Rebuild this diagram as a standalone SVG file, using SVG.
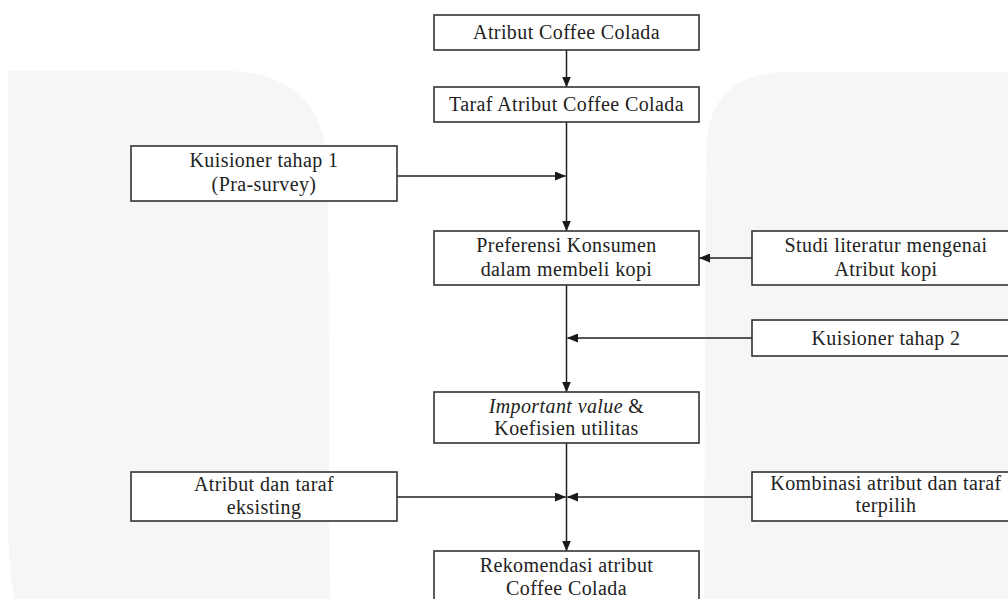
<svg xmlns="http://www.w3.org/2000/svg" width="1008" height="599" viewBox="0 0 1008 599">
<defs>
<marker id="ah" markerWidth="11" markerHeight="9" refX="10.5" refY="4.5" orient="auto" markerUnits="userSpaceOnUse">
<path d="M0,0 L11,4.5 L0,9 Z" fill="#1a1a1a"/>
</marker>
</defs>
<style>
.box{fill:#ffffff;stroke:#333333;stroke-width:1.6}
.t{font-family:"Liberation Serif","Times New Roman",serif;font-size:20px;letter-spacing:0.4px;fill:#222222;text-anchor:middle}
.c{fill:none;stroke:#1f1f1f;stroke-width:1.5}
.bg{fill:#f6f6f6}
</style>
<rect x="0" y="0" width="1008" height="599" fill="#ffffff"/>
<g id="watermark">
<path class="bg" d="M8,71 L230,71 Q325,75 328,170 L330,599 L14,599 Q8,560 8,520 Z"/>
<path class="bg" d="M1008,72 L780,72 Q708,76 706,150 L704,599 L1008,599 Z"/>
</g>
<g id="connectors">
<line class="c" x1="566.5" y1="50" x2="566.5" y2="87" marker-end="url(#ah)"/>
<line class="c" x1="566.5" y1="122" x2="566.5" y2="231" marker-end="url(#ah)"/>
<line class="c" x1="397" y1="176" x2="565.5" y2="176" marker-end="url(#ah)"/>
<line class="c" x1="752" y1="258" x2="699.5" y2="258" marker-end="url(#ah)"/>
<line class="c" x1="566.5" y1="285" x2="566.5" y2="392" marker-end="url(#ah)"/>
<line class="c" x1="752" y1="338" x2="567.5" y2="338" marker-end="url(#ah)"/>
<line class="c" x1="566.5" y1="443" x2="566.5" y2="551" marker-end="url(#ah)"/>
<line class="c" x1="397" y1="497" x2="565.5" y2="497" marker-end="url(#ah)"/>
<line class="c" x1="752" y1="497" x2="567.5" y2="497" marker-end="url(#ah)"/>
</g>
<g id="n1">
<rect class="box" x="434" y="15" width="265" height="35"/>
<text class="t" x="566.5" y="39">Atribut Coffee Colada</text>
</g>
<g id="n2">
<rect class="box" x="434" y="87" width="265" height="35"/>
<text class="t" x="566.5" y="111">Taraf Atribut Coffee Colada</text>
</g>
<g id="n3">
<rect class="box" x="131" y="146" width="266" height="55"/>
<text class="t" x="264" y="167">Kuisioner tahap 1</text>
<text class="t" x="264" y="191">(Pra-survey)</text>
</g>
<g id="n4">
<rect class="box" x="434" y="231" width="265" height="54"/>
<text class="t" x="566.5" y="252">Preferensi Konsumen</text>
<text class="t" x="566.5" y="276">dalam membeli kopi</text>
</g>
<g id="n5">
<rect class="box" x="752" y="231" width="268" height="54"/>
<text class="t" x="886" y="252">Studi literatur mengenai</text>
<text class="t" x="886" y="276">Atribut kopi</text>
</g>
<g id="n6">
<rect class="box" x="752" y="320" width="268" height="36"/>
<text class="t" x="886" y="345">Kuisioner tahap 2</text>
</g>
<g id="n7">
<rect class="box" x="434" y="392" width="265" height="51"/>
<text class="t" x="566.5" y="413"><tspan font-style="italic">Important value</tspan> &amp;</text>
<text class="t" x="566.5" y="435">Koefisien utilitas</text>
</g>
<g id="n8">
<rect class="box" x="131" y="472" width="266" height="49"/>
<text class="t" x="264" y="491">Atribut dan taraf</text>
<text class="t" x="264" y="514">eksisting</text>
</g>
<g id="n9">
<rect class="box" x="752" y="472" width="268" height="49"/>
<text class="t" x="886" y="490">Kombinasi atribut dan taraf</text>
<text class="t" x="886" y="512">terpilih</text>
</g>
<g id="n10">
<rect class="box" x="434" y="551" width="265" height="60"/>
<text class="t" x="566.5" y="572">Rekomendasi atribut</text>
<text class="t" x="566.5" y="595">Coffee Colada</text>
</g>
</svg>
